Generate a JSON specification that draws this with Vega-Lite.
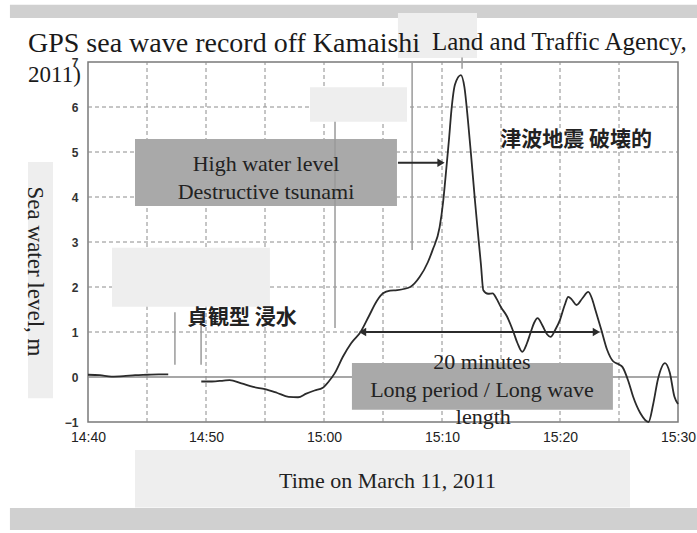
{
  "$schema": "https://vega.github.io/schema/vega-lite/v6.json",
  "width": 590,
  "height": 360,
  "autosize": {"type": "none"},
  "padding": {"left": 88, "top": 62, "right": 19, "bottom": 111},
  "background": "white",
  "config": {
    "view": {"stroke": "#7a7a7a", "strokeWidth": 1.5}
  },
  "title": {
    "text": "GPS sea wave record off Kamaishi",
    "subtitle": "2011)",
    "anchor": "start",
    "frame": "group",
    "dx": -60,
    "offset": -82,
    "font": "Liberation Serif",
    "fontSize": 28,
    "fontWeight": "normal",
    "color": "#1a1a1a",
    "subtitleFont": "Liberation Serif",
    "subtitleFontSize": 23,
    "subtitleColor": "#1a1a1a",
    "subtitlePadding": 6
  },
  "encoding": {
    "x": {"field": "time", "type": "temporal",
      "scale": {"domain": [{"year": 2011, "month": 3, "date": 11, "hours": 14, "minutes": 40}, {"year": 2011, "month": 3, "date": 11, "hours": 15, "minutes": 30}], "nice": false},
      "axis": {"title": "Time on March 11, 2011",
        "values": [
          {"year": 2011, "month": 3, "date": 11, "hours": 14, "minutes": 40},
          {"year": 2011, "month": 3, "date": 11, "hours": 14, "minutes": 50},
          {"year": 2011, "month": 3, "date": 11, "hours": 15, "minutes": 0},
          {"year": 2011, "month": 3, "date": 11, "hours": 15, "minutes": 10},
          {"year": 2011, "month": 3, "date": 11, "hours": 15, "minutes": 20},
          {"year": 2011, "month": 3, "date": 11, "hours": 15, "minutes": 30}
        ],
        "format": "%H:%M",
        "domain": false, "ticks": false, "grid": false,
        "zindex": 1,
        "labelFlush": false, "labelOverlap": false, "labelFont": "Liberation Sans", "labelFontSize": 14, "labelColor": "#222222", "labelPadding": 8, "titleFont": "Liberation Serif", "titleFontSize": 22, "titleFontWeight": "normal", "titleColor": "#222222", "titleX": 299, "titleY": 58, "titleBaseline": "middle"}},
    "y": {"field": "level", "type": "quantitative",
      "scale": {"domain": [-1, 7], "nice": false, "zero": false},
      "axis": {"title": "Sea water level, m", "values": [-1, 0, 1, 2, 3, 4, 5, 6, 7],
        "domain": false, "ticks": false, "grid": false,
        "zindex": 1,
        "labelFont": "Liberation Sans", "labelFontSize": 12, "labelFontWeight": "bold", "labelColor": "#333333", "labelPadding": 10, "titleFont": "Liberation Serif", "titleFontSize": 23, "titleFontWeight": "normal", "titleColor": "#222222", "titleAngle": 90, "titleX": -54, "titleY": 209, "titleBaseline": "middle", "titleAlign": "center"}}
  },
  "layer": [
    {
      "data": {
        "values": [
          {"time": "2011-03-11T14:45:00", "level": -1, "level2": 7},
          {"time": "2011-03-11T14:50:00", "level": -1, "level2": 7},
          {"time": "2011-03-11T14:55:00", "level": -1, "level2": 7},
          {"time": "2011-03-11T15:00:00", "level": -1, "level2": 7},
          {"time": "2011-03-11T15:05:00", "level": -1, "level2": 7},
          {"time": "2011-03-11T15:10:00", "level": -1, "level2": 7},
          {"time": "2011-03-11T15:15:00", "level": -1, "level2": 7},
          {"time": "2011-03-11T15:20:00", "level": -1, "level2": 7},
          {"time": "2011-03-11T15:25:00", "level": -1, "level2": 7}
        ],
        "format": {"parse": {"time": "date"}}
      },
      "mark": {"type": "rule", "color": "#8c8c8c", "strokeWidth": 1, "strokeDash": [4, 3]},
      "encoding": {"y2": {"field": "level2"}}
    },
    {
      "data": {
        "values": [
          {"time": "2011-03-11T14:40:00", "end": "2011-03-11T15:30:00", "level": 1},
          {"time": "2011-03-11T14:40:00", "end": "2011-03-11T15:30:00", "level": 2},
          {"time": "2011-03-11T14:40:00", "end": "2011-03-11T15:30:00", "level": 3},
          {"time": "2011-03-11T14:40:00", "end": "2011-03-11T15:30:00", "level": 4},
          {"time": "2011-03-11T14:40:00", "end": "2011-03-11T15:30:00", "level": 5},
          {"time": "2011-03-11T14:40:00", "end": "2011-03-11T15:30:00", "level": 6}
        ],
        "format": {"parse": {"time": "date", "end": "date"}}
      },
      "mark": {"type": "rule", "color": "#8c8c8c", "strokeWidth": 1, "strokeDash": [4, 3]},
      "encoding": {"x2": {"field": "end"}}
    },
    {
      "data": {
        "values": [
          {"time": "2011-03-11T14:40:00", "end": "2011-03-11T15:30:00", "level": 0}
        ],
        "format": {"parse": {"time": "date", "end": "date"}}
      },
      "mark": {"type": "rule", "color": "#8a8a8a", "strokeWidth": 1.5},
      "encoding": {"x2": {"field": "end"}}
    },
    {
      "data": {
        "values": [
          {"time": "2011-03-11T14:33:23", "end": "2011-03-11T15:31:37", "level": 8.27, "level2": 7.98, "kind": "bar"},
          {"time": "2011-03-11T14:33:23", "end": "2011-03-11T15:31:37", "level": -2.91, "level2": -3.4, "kind": "bar"},
          {"time": "2011-03-11T14:43:59", "end": "2011-03-11T15:25:56", "level": -1.62, "level2": -2.9, "kind": "light"},
          {"time": "2011-03-11T14:34:55", "end": "2011-03-11T14:37:02", "level": 4.78, "level2": -0.47, "kind": "light"},
          {"time": "2011-03-11T15:06:16", "end": "2011-03-11T15:12:58", "level": 8.09, "level2": 7.09, "kind": "light"},
          {"time": "2011-03-11T14:58:49", "end": "2011-03-11T15:07:02", "level": 6.44, "level2": 5.67, "kind": "light"},
          {"time": "2011-03-11T14:42:02", "end": "2011-03-11T14:55:25", "level": 2.87, "level2": 1.56, "kind": "light"},
          {"time": "2011-03-11T14:43:59", "end": "2011-03-11T15:06:11", "level": 5.29, "level2": 3.8, "kind": "dark"},
          {"time": "2011-03-11T15:02:22", "end": "2011-03-11T15:24:29", "level": 0.31, "level2": -0.73, "kind": "dark"}
        ],
        "format": {"parse": {"time": "date", "end": "date"}}
      },
      "mark": {"type": "rect"},
      "encoding": {
        "x2": {"field": "end"},
        "y2": {"field": "level2"},
        "color": {"field": "kind", "type": "nominal", "scale": {"domain": ["bar", "light", "dark"], "range": ["#d0d0d0", "#eeeeee", "#a9a9a9"]}, "legend": null}
      }
    },
    {
      "data": {
        "values": [
          {"time": "2011-03-11T15:00:56", "level": 5.67, "level2": 1.09},
          {"time": "2011-03-11T15:07:28", "level": 7.0, "level2": 2.82},
          {"time": "2011-03-11T15:11:42", "level": 7.1, "level2": 6.85},
          {"time": "2011-03-11T14:47:22", "level": 1.44, "level2": 0.27},
          {"time": "2011-03-11T14:49:35", "level": 1.44, "level2": 0.27}
        ],
        "format": {"parse": {"time": "date"}}
      },
      "mark": {"type": "rule", "color": "#9a9a9a", "strokeWidth": 1.5},
      "encoding": {"y2": {"field": "level2"}}
    },
    {
      "data": {
        "values": [
          {"time": "2011-03-11T14:40:00", "level": 0.05, "segment": 1},
          {"time": "2011-03-11T14:41:00", "level": 0.04, "segment": 1},
          {"time": "2011-03-11T14:42:00", "level": 0.01, "segment": 1},
          {"time": "2011-03-11T14:43:00", "level": 0.02, "segment": 1},
          {"time": "2011-03-11T14:44:00", "level": 0.04, "segment": 1},
          {"time": "2011-03-11T14:45:00", "level": 0.05, "segment": 1},
          {"time": "2011-03-11T14:46:00", "level": 0.06, "segment": 1},
          {"time": "2011-03-11T14:46:48", "level": 0.06, "segment": 1},
          {"time": "2011-03-11T14:49:36", "level": -0.1, "segment": 2},
          {"time": "2011-03-11T14:50:30", "level": -0.1, "segment": 2},
          {"time": "2011-03-11T14:51:30", "level": -0.08, "segment": 2},
          {"time": "2011-03-11T14:52:00", "level": -0.07, "segment": 2},
          {"time": "2011-03-11T14:53:00", "level": -0.14, "segment": 2},
          {"time": "2011-03-11T14:54:00", "level": -0.22, "segment": 2},
          {"time": "2011-03-11T14:55:00", "level": -0.27, "segment": 2},
          {"time": "2011-03-11T14:56:00", "level": -0.35, "segment": 2},
          {"time": "2011-03-11T14:57:00", "level": -0.44, "segment": 2},
          {"time": "2011-03-11T14:57:48", "level": -0.45, "segment": 2},
          {"time": "2011-03-11T14:58:30", "level": -0.37, "segment": 2},
          {"time": "2011-03-11T14:59:12", "level": -0.3, "segment": 2},
          {"time": "2011-03-11T14:59:54", "level": -0.24, "segment": 2},
          {"time": "2011-03-11T15:00:24", "level": -0.1, "segment": 2},
          {"time": "2011-03-11T15:00:54", "level": 0.08, "segment": 2},
          {"time": "2011-03-11T15:01:36", "level": 0.45, "segment": 2},
          {"time": "2011-03-11T15:02:18", "level": 0.75, "segment": 2},
          {"time": "2011-03-11T15:03:06", "level": 1.0, "segment": 2},
          {"time": "2011-03-11T15:03:48", "level": 1.35, "segment": 2},
          {"time": "2011-03-11T15:04:30", "level": 1.7, "segment": 2},
          {"time": "2011-03-11T15:05:00", "level": 1.86, "segment": 2},
          {"time": "2011-03-11T15:05:36", "level": 1.92, "segment": 2},
          {"time": "2011-03-11T15:06:12", "level": 1.93, "segment": 2},
          {"time": "2011-03-11T15:07:18", "level": 2.0, "segment": 2},
          {"time": "2011-03-11T15:08:06", "level": 2.22, "segment": 2},
          {"time": "2011-03-11T15:08:48", "level": 2.55, "segment": 2},
          {"time": "2011-03-11T15:09:12", "level": 2.82, "segment": 2},
          {"time": "2011-03-11T15:09:48", "level": 3.33, "segment": 2},
          {"time": "2011-03-11T15:10:06", "level": 3.9, "segment": 2},
          {"time": "2011-03-11T15:10:18", "level": 4.44, "segment": 2},
          {"time": "2011-03-11T15:10:36", "level": 5.3, "segment": 2},
          {"time": "2011-03-11T15:10:48", "level": 5.93, "segment": 2},
          {"time": "2011-03-11T15:11:06", "level": 6.5, "segment": 2},
          {"time": "2011-03-11T15:11:36", "level": 6.71, "segment": 2},
          {"time": "2011-03-11T15:11:54", "level": 6.44, "segment": 2},
          {"time": "2011-03-11T15:12:12", "level": 5.7, "segment": 2},
          {"time": "2011-03-11T15:12:30", "level": 4.82, "segment": 2},
          {"time": "2011-03-11T15:12:48", "level": 3.9, "segment": 2},
          {"time": "2011-03-11T15:13:00", "level": 3.33, "segment": 2},
          {"time": "2011-03-11T15:13:18", "level": 2.5, "segment": 2},
          {"time": "2011-03-11T15:13:30", "level": 1.93, "segment": 2},
          {"time": "2011-03-11T15:13:54", "level": 1.85, "segment": 2},
          {"time": "2011-03-11T15:14:18", "level": 1.86, "segment": 2},
          {"time": "2011-03-11T15:14:36", "level": 1.75, "segment": 2},
          {"time": "2011-03-11T15:15:00", "level": 1.55, "segment": 2},
          {"time": "2011-03-11T15:15:30", "level": 1.35, "segment": 2},
          {"time": "2011-03-11T15:16:00", "level": 1.04, "segment": 2},
          {"time": "2011-03-11T15:16:24", "level": 0.75, "segment": 2},
          {"time": "2011-03-11T15:16:48", "level": 0.56, "segment": 2},
          {"time": "2011-03-11T15:17:12", "level": 0.75, "segment": 2},
          {"time": "2011-03-11T15:17:30", "level": 0.98, "segment": 2},
          {"time": "2011-03-11T15:17:48", "level": 1.2, "segment": 2},
          {"time": "2011-03-11T15:18:06", "level": 1.31, "segment": 2},
          {"time": "2011-03-11T15:18:30", "level": 1.15, "segment": 2},
          {"time": "2011-03-11T15:18:54", "level": 0.95, "segment": 2},
          {"time": "2011-03-11T15:19:12", "level": 0.89, "segment": 2},
          {"time": "2011-03-11T15:19:36", "level": 1.05, "segment": 2},
          {"time": "2011-03-11T15:20:00", "level": 1.27, "segment": 2},
          {"time": "2011-03-11T15:20:24", "level": 1.6, "segment": 2},
          {"time": "2011-03-11T15:20:42", "level": 1.78, "segment": 2},
          {"time": "2011-03-11T15:21:00", "level": 1.72, "segment": 2},
          {"time": "2011-03-11T15:21:24", "level": 1.6, "segment": 2},
          {"time": "2011-03-11T15:21:54", "level": 1.75, "segment": 2},
          {"time": "2011-03-11T15:22:24", "level": 1.89, "segment": 2},
          {"time": "2011-03-11T15:22:42", "level": 1.75, "segment": 2},
          {"time": "2011-03-11T15:23:00", "level": 1.49, "segment": 2},
          {"time": "2011-03-11T15:23:30", "level": 1.05, "segment": 2},
          {"time": "2011-03-11T15:24:00", "level": 0.6, "segment": 2},
          {"time": "2011-03-11T15:24:30", "level": 0.35, "segment": 2},
          {"time": "2011-03-11T15:25:00", "level": 0.28, "segment": 2},
          {"time": "2011-03-11T15:25:18", "level": 0.22, "segment": 2},
          {"time": "2011-03-11T15:25:48", "level": -0.1, "segment": 2},
          {"time": "2011-03-11T15:26:12", "level": -0.44, "segment": 2},
          {"time": "2011-03-11T15:26:48", "level": -0.8, "segment": 2},
          {"time": "2011-03-11T15:27:30", "level": -1.0, "segment": 2},
          {"time": "2011-03-11T15:27:54", "level": -0.6, "segment": 2},
          {"time": "2011-03-11T15:28:18", "level": -0.05, "segment": 2},
          {"time": "2011-03-11T15:28:54", "level": 0.31, "segment": 2},
          {"time": "2011-03-11T15:29:18", "level": 0.1, "segment": 2},
          {"time": "2011-03-11T15:29:42", "level": -0.44, "segment": 2},
          {"time": "2011-03-11T15:30:00", "level": -0.6, "segment": 2}
        ],
        "format": {"parse": {"time": "date"}}
      },
      "mark": {"type": "line", "color": "#2b2b2b", "strokeWidth": 1.8, "interpolate": "monotone"},
      "encoding": {"detail": {"field": "segment", "type": "nominal"}}
    },
    {
      "data": {
        "values": [
          {"time": "2011-03-11T15:06:16", "end": "2011-03-11T15:09:50", "level": 4.76},
          {"time": "2011-03-11T15:03:20", "end": "2011-03-11T15:23:00", "level": 1.0}
        ],
        "format": {"parse": {"time": "date", "end": "date"}}
      },
      "mark": {"type": "rule", "color": "#2b2b2b", "strokeWidth": 2},
      "encoding": {"x2": {"field": "end"}}
    },
    {
      "data": {
        "values": [
          {"time": "2011-03-11T15:09:55", "level": 4.76, "dir": "right"},
          {"time": "2011-03-11T15:03:16", "level": 1.0, "dir": "left"},
          {"time": "2011-03-11T15:23:05", "level": 1.0, "dir": "right"}
        ],
        "format": {"parse": {"time": "date"}}
      },
      "mark": {"type": "point", "filled": true, "color": "#2b2b2b", "opacity": 1, "size": 70},
      "encoding": {
        "shape": {"field": "dir", "type": "nominal", "scale": {"domain": ["left", "right"], "range": ["triangle-left", "triangle-right"]}, "legend": null}
      }
    },
    {
      "data": {
        "values": [
          {"time": "2011-03-11T14:55:05", "level": 4.73, "label": "High water level"},
          {"time": "2011-03-11T14:55:05", "level": 4.11, "label": "Destructive tsunami"},
          {"time": "2011-03-11T15:13:23", "level": 0.33, "label": "20 minutes"},
          {"time": "2011-03-11T15:13:23", "level": -0.29, "label": "Long period / Long wave"},
          {"time": "2011-03-11T15:13:30", "level": -0.89, "label": "length"}
        ],
        "format": {"parse": {"time": "date"}}
      },
      "mark": {"type": "text", "font": "Liberation Serif", "fontSize": 22, "color": "#222222", "align": "center", "baseline": "middle"},
      "encoding": {"text": {"field": "label", "type": "nominal"}}
    },
    {
      "data": {
        "values": [
          {"time": "2011-03-11T15:09:09", "level": 7.27, "label": "Land and Traffic Agency,"}
        ],
        "format": {"parse": {"time": "date"}}
      },
      "mark": {"type": "text", "font": "Liberation Serif", "fontSize": 25, "color": "#1a1a1a", "align": "left", "baseline": "alphabetic"},
      "encoding": {"text": {"field": "label", "type": "nominal"}}
    },
    {
      "data": {
        "values": [
          {"time": "2011-03-11T15:21:22", "level": 5.27, "label": "津波地震 破壊的"},
          {"time": "2011-03-11T14:53:03", "level": 1.31, "label": "貞観型 浸水"}
        ],
        "format": {"parse": {"time": "date"}}
      },
      "mark": {"type": "text", "font": "Noto Sans CJK JP", "fontSize": 21, "fontWeight": "bold", "color": "#222222", "align": "center", "baseline": "middle"},
      "encoding": {"text": {"field": "label", "type": "nominal"}}
    }
  ]
}
